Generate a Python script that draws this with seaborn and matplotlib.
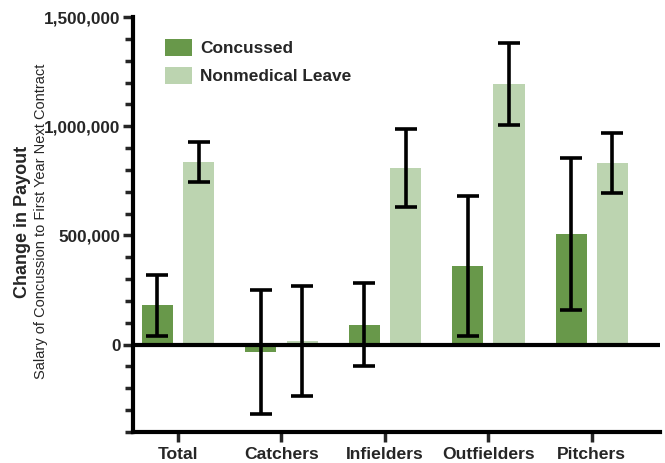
import matplotlib
matplotlib.use("Agg")
import matplotlib.pyplot as plt
from matplotlib.ticker import MultipleLocator, FuncFormatter
import seaborn as sns
import pandas as pd
import numpy as np

categories = ["Total", "Catchers", "Infielders", "Outfielders", "Pitchers"]
groups = ["Concussed", "Nonmedical Leave"]
concussed = [181000, -32000, 92000, 361000, 506000]
concussed_err = [140000, 284000, 189000, 321000, 348000]
nonmedical = [837000, 18000, 809000, 1192000, 831000]
nonmedical_err = [90000, 252000, 179000, 188000, 137000]
colors = ["#68984a", "#bcd4b0"]

df = pd.DataFrame({
    "category": categories * 2,
    "group": [groups[0]] * 5 + [groups[1]] * 5,
    "value": concussed + nonmedical,
    "err": concussed_err + nonmedical_err,
})

sns.set_style("white")
plt.rcParams["font.family"] = ["Liberation Sans", "DejaVu Sans"]
plt.rcParams["font.weight"] = "bold"

fig = plt.figure(figsize=(6.65, 4.63), dpi=100)
ax = fig.add_axes([0.2, 0.067, 0.7925, 0.896])

sns.barplot(data=df, x="category", y="value", hue="group", order=categories,
            hue_order=groups, palette=colors, width=0.8, gap=0.25,
            errorbar=None, ax=ax, saturation=1, edgecolor="none")

# error bars at bar centers
for cont, g in zip(ax.containers, groups):
    sub = df[df["group"] == g].set_index("category").loc[categories]
    xs = [p.get_x() + p.get_width() / 2 for p in cont.patches]
    ax.errorbar(xs, sub["value"], yerr=sub["err"], fmt="none", ecolor="black",
                elinewidth=2.6, capsize=8, capthick=2.6, zorder=5)

ax.axhline(0, color="black", lw=3, zorder=6)

ax.set_ylim(-400000, 1500000)
ax.set_xlim(-0.435, 4.66)
ax.yaxis.set_major_locator(MultipleLocator(500000))
ax.yaxis.set_minor_locator(MultipleLocator(100000))
ax.yaxis.set_major_formatter(FuncFormatter(lambda v, p: f"{int(v):,}"))
ax.tick_params(axis="y", which="major", direction="out", length=7, width=2.5,
               left=True, labelsize=12.3, pad=2)
ax.tick_params(axis="y", which="minor", direction="out", length=6, width=2.5, left=True)
ax.tick_params(axis="x", direction="out", length=7, width=2.5, bottom=True,
               labelsize=12.6, pad=4)
for lab in ax.get_xticklabels() + ax.get_yticklabels():
    lab.set_fontweight("bold")

for s in ["top", "right"]:
    ax.spines[s].set_visible(False)
for s in ["left", "bottom"]:
    ax.spines[s].set_linewidth(3)
    ax.spines[s].set_color("black")

ax.set_xlabel("")
ax.set_ylabel("")

leg = ax.legend(loc="upper left", bbox_to_anchor=(0.032, 0.985), frameon=False,
                handlelength=1.55, handleheight=1.15,
                handletextpad=0.45, labelspacing=0.6, prop={"weight": "bold", "size": 12.4})

fig.text(0.034, 0.5205, "Change in Payout", rotation=90, ha="center", va="center",
         fontsize=13, fontweight="bold")
fig.text(0.061, 0.523, "Salary of Concussion to First Year Next Contract", rotation=90,
         ha="center", va="center", fontsize=10.5, fontweight="normal")

fig.savefig("out.png", dpi=100)
